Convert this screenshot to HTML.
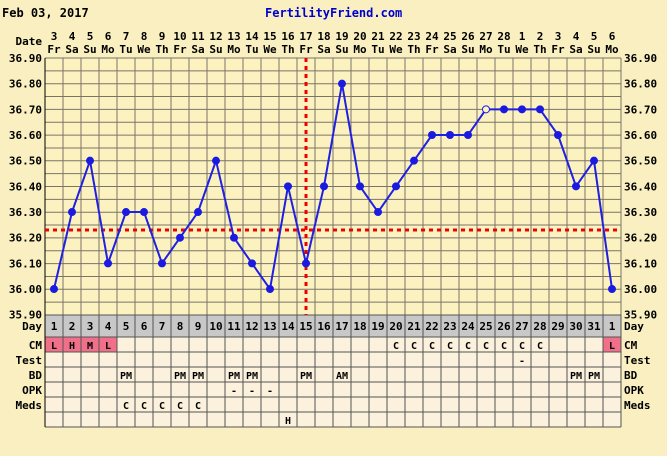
<!DOCTYPE html>
<html><head><meta charset="utf-8"><style>
html,body{margin:0;padding:0;background:#f9efc0;}
svg{display:block;font-family:"DejaVu Sans Mono","Liberation Mono",monospace;font-weight:bold;}
</style></head><body>
<svg id="s" width="667" height="456" xmlns="http://www.w3.org/2000/svg"></svg>
<script>
const s=document.getElementById('s');let h='';
const L=45,W=18,N=32,T=58,B=315;
const yv=v=>T+(36.9-v)*256.7;
h+=`<rect x="0" y="0" width="667" height="456" fill="#f9efc0"/>`;
h+=`<text x="2" y="17" font-size="12" fill="#000">Feb 03, 2017</text>`;
h+=`<text x="265" y="17" font-size="12" fill="#0000cc">FertilityFriend.com</text>`;
h+=`<rect x="${L}" y="${T}" width="${N*W}" height="${B-T}" fill="#fcf2c0"/>`;
for(let i=0;i<=20;i++){const y=T+i*(B-T)/20;h+=`<line x1="${L}" x2="${L+N*W}" y1="${y}" y2="${y}" stroke="#7a7468" stroke-width="1"/>`;}
for(let i=0;i<=N;i++){const x=L+i*W;h+=`<line x1="${x}" x2="${x}" y1="${T}" y2="${B}" stroke="#7a7468" stroke-width="1"/>`;}
for(let i=0;i<=10;i++){const v=(36.9-i*0.1).toFixed(2);const y=T+i*25.67+4;
h+=`<text x="42" y="${y}" font-size="11" text-anchor="end">${v}</text><text x="624" y="${y}" font-size="11">${v}</text>`;}
const dates=[];for(let d=3;d<=28;d++)dates.push(d);for(let d=1;d<=6;d++)dates.push(d);
const wd=['Fr','Sa','Su','Mo','Tu','We','Th'];
h+=`<text x="42" y="45" font-size="11" text-anchor="end">Date</text>`;
dates.forEach((d,i)=>{const x=L+i*W+9;h+=`<text x="${x}" y="40" font-size="11" text-anchor="middle">${d}</text><text x="${x}" y="53" font-size="11" text-anchor="middle">${wd[i%7]}</text>`;});
h+=`<rect x="${L}" y="315" width="${N*W}" height="22" fill="#c8c8c8"/>`;
h+=`<rect x="${L}" y="337" width="${N*W}" height="90" fill="#fcf1dc"/>`;
[0,1,2,3,31].forEach(i=>h+=`<rect x="${L+i*W}" y="337" width="${W}" height="15" fill="#f0708a"/>`);
const ys=[315,337,352,367,382,397,412,427];
ys.forEach(y=>h+=`<line x1="${L}" x2="${L+N*W}" y1="${y}" y2="${y}" stroke="#555" />`);
for(let i=0;i<=N;i++){const x=L+i*W;h+=`<line x1="${x}" x2="${x}" y1="315" y2="427" stroke="#555"/>`;}
h+=`<line x1="${L}" x2="${L}" y1="${T}" y2="427" stroke="#000"/>`;
const lab=['Day','CM','Test','BD','OPK','Meds'];
lab.forEach((t,k)=>{const y=[330,349,364,379,394,409][k];h+=`<text x="42" y="${y}" font-size="11" text-anchor="end">${t}</text>`;if(k>0)h+=`<text x="624" y="${y}" font-size="11">${t}</text>`;});
h+=`<text x="624" y="330" font-size="11">Day</text>`;
for(let i=0;i<N;i++)h+=`<text x="${L+i*W+9}" y="330" font-size="11" text-anchor="middle">${i<31?i+1:1}</text>`;
const cell=(i,row,t)=>{h+=`<text x="${L+i*W+9}" y="${[0,349,364,379,394,409,424][row]}" font-size="10" text-anchor="middle">${t}</text>`;};
['L','H','M','L'].forEach((t,i)=>cell(i,1,t));cell(31,1,'L');
for(let i=19;i<=27;i++)cell(i,1,'C');
cell(26,2,'-');
[4,7,8,10,11,14,29,30].forEach(i=>cell(i,3,'PM'));cell(16,3,'AM');
[10,11,12].forEach(i=>cell(i,4,'-'));
[4,5,6,7,8].forEach(i=>cell(i,5,'C'));
cell(13,6,'H');
h+=`<line x1="${L}" x2="${L+N*W}" y1="230" y2="230" stroke="#e00" stroke-width="3" stroke-dasharray="4,4"/>`;
h+=`<line x1="306" x2="306" y1="${T}" y2="${B}" stroke="#e00" stroke-width="3" stroke-dasharray="4,4"/>`;
const t=[36.0,36.3,36.5,36.1,36.3,36.3,36.1,36.2,36.3,36.5,36.2,36.1,36.0,36.4,36.1,36.4,36.8,36.4,36.3,36.4,36.5,36.6,36.6,36.6,36.7,36.7,36.7,36.7,36.6,36.4,36.5,36.0];
const pts=t.map((v,i)=>[L+i*W+9,yv(v)]);
h+=`<polyline points="${pts.map(p=>p.join(',')).join(' ')}" fill="none" stroke="#2020e0" stroke-width="2"/>`;
pts.forEach((p,i)=>{if(i==24)h+=`<circle cx="${p[0]}" cy="${p[1]}" r="3.5" fill="#fdf5c6" stroke="#2020e0" stroke-width="1"/>`;else h+=`<circle cx="${p[0]}" cy="${p[1]}" r="4" fill="#1a1ae0"/>`;});
s.innerHTML=h;
</script>
</body></html>
